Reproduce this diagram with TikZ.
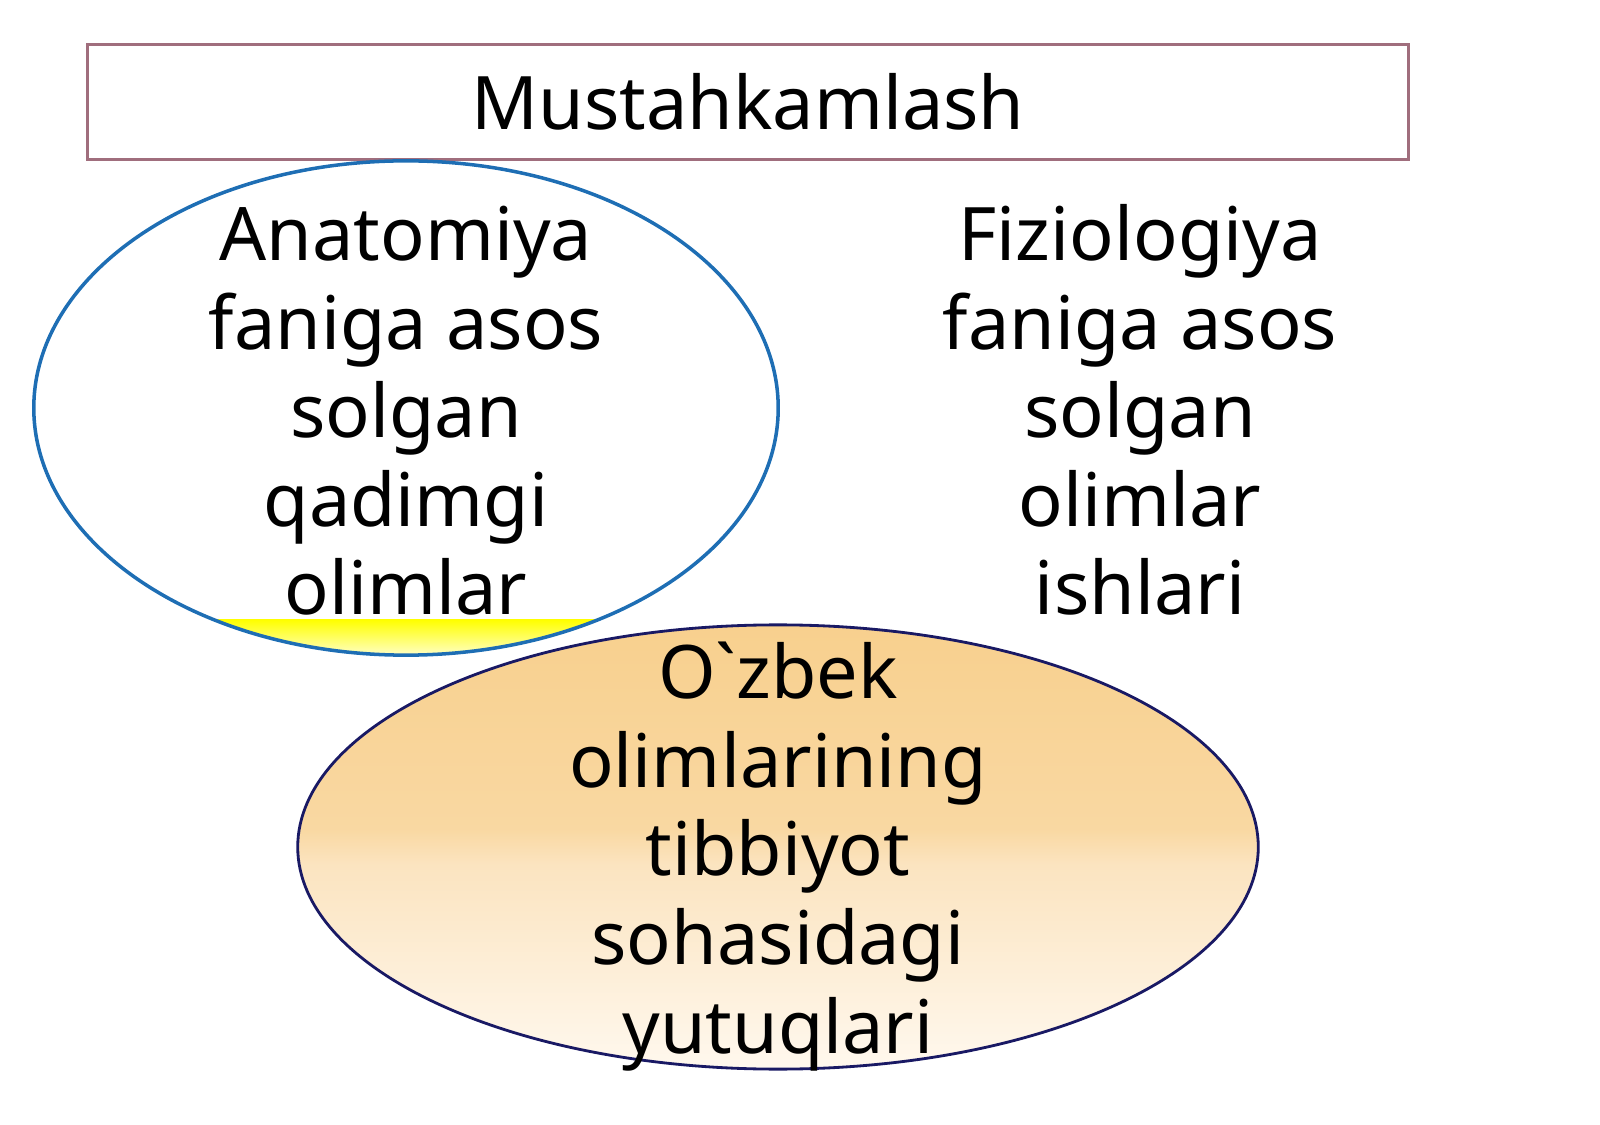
\documentclass[tikz,border=0pt]{standalone}
\usepackage{fontspec}
\setmainfont{Noto Sans}[Ligatures=TeXOff]
\usetikzlibrary{shapes.geometric}

\definecolor{boxline}{RGB}{160,110,125}
\definecolor{anatline}{RGB}{30,110,180}
\definecolor{ozline}{RGB}{25,25,100}
\definecolor{oztop}{RGB}{248,208,142}
\definecolor{ozmidhi}{RGB}{249,216,162}
\definecolor{ozmidlo}{RGB}{251,228,192}
\definecolor{ozbot}{RGB}{255,248,238}
\pgfdeclareverticalshading{ozbekshade}{100bp}{color(0bp)=(ozbot); color(25bp)=(ozbot); color(48bp)=(ozmidlo); color(52bp)=(ozmidhi); color(75bp)=(oztop); color(100bp)=(oztop)}

\tikzset{
  words/.style={font=\fontsize{21}{25.2}\selectfont, align=center, inner sep=0pt},
  oval/.style={ellipse, inner sep=0pt}
}

\begin{document}
\begin{tikzpicture}[x=0.01cm, y=-0.01cm]
	\useasboundingbox (0,0) rectangle (1600,1125);
	
	\node (title) [draw=boxline, line width=0.8pt, minimum width=13.2cm, minimum height=1.15cm, font=\fontsize{21}{25.2}\selectfont] at (748,102) {Mustahkamlash};
	
	\node (anatoval) [oval, minimum width=7.44cm, minimum height=4.94cm] at (406,408) {};
	\begin{scope}
		\clip (406,408) ellipse [x radius=3.72cm, y radius=2.47cm];
		\shade [top color=yellow, bottom color=yellow!12] (200,620) rectangle (620,660);
	\end{scope}
	\draw [anatline, line width=1pt] (406,408) ellipse [x radius=3.72cm, y radius=2.47cm];
	
	\node (ozoval) [oval, draw=ozline, line width=0.8pt, shading=ozbekshade, minimum width=9.6cm, minimum height=4.44cm] at (778,847) {};
	
	% base = last line
	\node (anat) [words, anchor=base] at (406,615) {Anatomiya\\faniga asos\\solgan\\qadimgi\\olimlar};
	\node (fiz) [words, anchor=base] at (1140,615) {Fiziologiya\\faniga asos\\solgan\\olimlar\\ishlari};
	\node (ozbek) [words, anchor=base] at (778,1053) {O`zbek\\olimlarining\\tibbiyot\\sohasidagi\\yutuqlari};
\end{tikzpicture}
\end{document}
